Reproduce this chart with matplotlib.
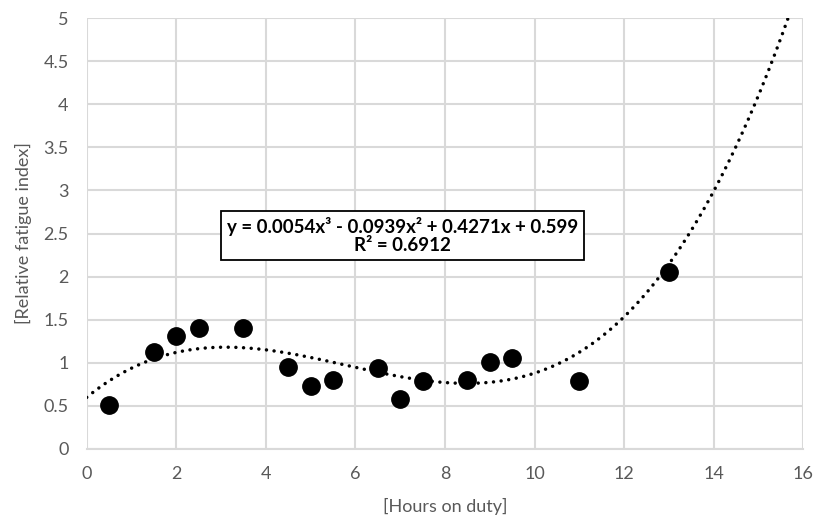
import numpy as np
import matplotlib.pyplot as plt

# Observations
hours = [0.5, 1.5, 2, 2.5, 3.5, 4.5, 5, 5.5, 6.5, 7, 7.5, 8.5, 9, 9.5, 11, 13]
fatigue = [0.51, 1.13, 1.31, 1.40, 1.40, 0.95, 0.73, 0.80, 0.94, 0.58, 0.79, 0.80, 1.01, 1.06, 0.79, 2.05]

# Cubic trend line coefficients (from the chart label)
coef = [0.0054, -0.0939, 0.4271, 0.599]
r2 = 0.6912

xticks = np.arange(0, 17, 2)
yticks = np.arange(0, 5.01, 0.5)
ytick_labels = ['0', '0.5', '1', '1.5', '2', '2.5', '3', '3.5', '4', '4.5', '5']

plt.rcParams['font.family'] = ['Lato', 'DejaVu Sans']

fig = plt.figure(figsize=(8.18, 5.23), dpi=100)
ax = fig.add_axes([0.106, 0.1415, 0.876, 0.824])

xs = np.linspace(0, 16, 800)
ys = np.polyval(coef, xs)
keep = ys <= 5.02
ax.plot(xs[keep], ys[keep], color='black', linestyle=(0, (0.01, 2.2)),
        linewidth=2.5, dash_capstyle='round', zorder=3)
ax.plot(hours, fatigue, 'o', color='black', markersize=12.5, zorder=4)

ax.set_xlim(0, 16)
ax.set_ylim(0, 5)
ax.set_xticks(xticks)
ax.set_yticks(yticks)
ax.set_yticklabels(ytick_labels)
ax.grid(True, color='#d9d9d9', linewidth=1.5)
ax.set_axisbelow(True)
for s in ['top', 'right', 'left']:
    ax.spines[s].set_visible(False)
ax.spines['bottom'].set_color('#d9d9d9')
ax.spines['bottom'].set_linewidth(1.5)
ax.tick_params(length=0, labelsize=13, labelcolor='#595959')
ax.tick_params(axis='x', pad=12)
ax.tick_params(axis='y', pad=13)

ax.set_xlabel('[Hours on duty]', fontsize=13, color='#595959', labelpad=12)
ax.set_ylabel('[Relative fatigue index]', fontsize=13, color='#595959', labelpad=8)

label = ('y = 0.0054x³ - 0.0939x² + 0.4271x + 0.599\nR² = %.4f' % r2)
ax.text(7.05, 2.48, label, ha='center', va='center', fontsize=13.5,
        fontweight='bold', linespacing=1.1, zorder=5,
        bbox=dict(boxstyle='square,pad=0.3', facecolor='white',
                  edgecolor='black', linewidth=1.3))

fig.savefig('out.png', dpi=100)
